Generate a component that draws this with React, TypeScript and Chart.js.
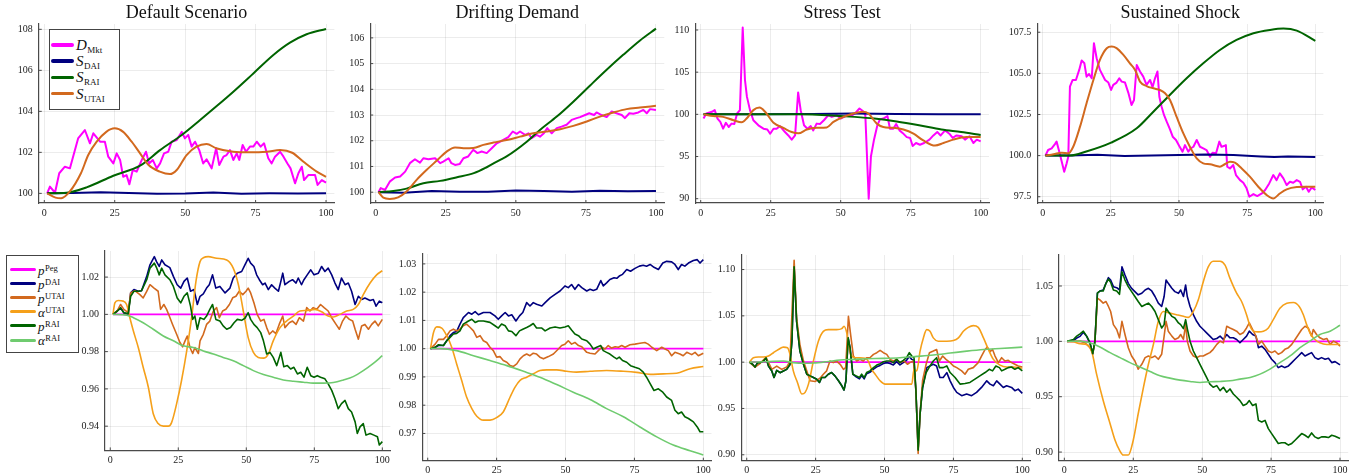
import React, { useEffect, useRef } from "react";
import { Chart, registerables } from "chart.js";
Chart.register(...registerables);

type Pt = [number, number];

const SERIF = "'Liberation Serif', 'DejaVu Serif', serif";
const TITLES = ["Default Scenario", "Drifting Demand", "Stress Test", "Sustained Shock"];
const X_TICKS = [0, 25, 50, 75, 100];
const X_TICK_LABELS = ["0", "25", "50", "75", "100"];

const Y_TICKS_P1 = [100, 102, 104, 106, 108];
const Y_LABELS_P1 = ["100", "102", "104", "106", "108"];
const Y_TICKS_P2 = [100, 101, 102, 103, 104, 105, 106];
const Y_LABELS_P2 = ["100", "101", "102", "103", "104", "105", "106"];
const Y_TICKS_P3 = [90, 95, 100, 105, 110];
const Y_LABELS_P3 = ["90", "95", "100", "105", "110"];
const Y_TICKS_P4 = [97.5, 100, 102.5, 105, 107.5];
const Y_LABELS_P4 = ["97.5", "100.0", "102.5", "105.0", "107.5"];
const Y_TICKS_P5 = [0.94, 0.96, 0.98, 1.0, 1.02];
const Y_LABELS_P5 = ["0.94", "0.96", "0.98", "1.00", "1.02"];
const Y_TICKS_P6 = [0.97, 0.98, 0.99, 1.0, 1.01, 1.02, 1.03];
const Y_LABELS_P6 = ["0.97", "0.98", "0.99", "1.00", "1.01", "1.02", "1.03"];
const Y_TICKS_P7 = [0.9, 0.95, 1.0, 1.05, 1.1];
const Y_LABELS_P7 = ["0.90", "0.95", "1.00", "1.05", "1.10"];
const Y_TICKS_P8 = [0.9, 0.95, 1.0, 1.05];
const Y_LABELS_P8 = ["0.90", "0.95", "1.00", "1.05"];

const LEGEND_TOP_BASE = ["D", "S", "S", "S"];
const LEGEND_TOP_SUB = ["Mkt", "DAI", "RAI", "UTAI"];
const LEGEND_BOT_BASE = ["p", "p", "p", "α", "p", "α"];
const LEGEND_BOT_SUP = ["Peg", "DAI", "UTAI", "UTAI", "RAI", "RAI"];

// ---------- Panel 1: Default Scenario ----------
const P1_DMKT: Pt[] = [[1,100],[2,100.33],[3.8,100.03],[5.3,100.98],[7.3,101.3],[9.1,101.22],[12,102.68],[14.4,103.09],[16.2,102.44],[17.4,102.93],[19.8,102.52],[21.5,102.52],[22.7,101.79],[24.5,101.46],[25.7,101.95],[26.9,101.63],[28,100.81],[29.2,100.89],[30.2,100.44],[31.4,101.14],[32.8,101.06],[34.6,101.63],[36.1,102.03],[37.2,101.46],[38.5,101.63],[39.9,101.22],[41.1,101.46],[42.5,101.95],[44,102.03],[45.2,102.52],[47,102.6],[48.8,103.0],[49.9,102.68],[51.1,102.85],[52.3,102.28],[53.5,102.52],[55,102.11],[56.4,101.46],[57.6,101.66],[59.4,101.22],[61,102.2],[62.1,101.38],[63.6,101.79],[64.7,101.87],[65.9,102.11],[67.1,101.63],[68.3,101.95],[69.2,101.63],[70.4,102.36],[71.6,102.03],[73,102.28],[74.2,102.28],[75.4,102.52],[76.8,102.28],[78,102.44],[79.5,101.71],[80.7,101.46],[81.9,101.79],[83.7,102.03],[84.9,101.79],[86.3,101.46],[87.4,101.22],[89,100.49],[90.2,100.98],[91.4,101.3],[92.2,100.65],[93.7,100.89],[96.1,100.89],[97,100.41],[98.5,100.65],[100,100.52]];
const P1_SDAI: Pt[] = [[1,100],[10,100.02],[20,100.06],[30,100.02],[40,99.98],[50,99.99],[60,100.04],[70,99.98],[80,100.0],[90,99.99],[100,100.0]];
const P1_SRAI: Pt[] = [[1,100],[7.9,100.03],[15,100.29],[24.5,100.86],[34,101.35],[41.1,102.11],[48.8,102.85],[55.3,103.58],[61.2,104.26],[67.1,104.96],[74.2,105.85],[81.3,106.75],[87.2,107.35],[93.1,107.76],[100,108.02]];
const P1_SUTAI: Pt[] = [[1,100],[4,99.79],[6,99.76],[9,100.08],[13,100.98],[15.6,101.87],[18.6,102.52],[22,103.0],[25,103.17],[28,103.0],[31,102.52],[34,101.95],[37,101.38],[41,101.06],[44.6,100.94],[47,101.14],[50.5,101.87],[54,102.28],[57.6,102.41],[61,102.2],[67,102.03],[73,102.0],[79,102.03],[83.7,102.11],[88,101.98],[92,101.54],[96.7,101.06],[100,100.81]];

// ---------- Panel 2: Drifting Demand ----------
const P2_DMKT: Pt[] = [[1,100],[1.8,100.16],[3.3,100.09],[5,100.41],[6.9,100.57],[8.7,100.61],[10.5,100.8],[12.2,101.13],[14,101.28],[15.8,101.15],[17,101.32],[18.8,101.28],[21.2,101.32],[23,101.13],[24.1,101.19],[26,101.32],[27,101.13],[28.3,101.06],[30,101.1],[31.3,101.32],[33,101.39],[34.8,101.65],[36.3,101.52],[37.8,101.58],[39.6,101.52],[41.4,101.71],[43.2,101.9],[45.5,102.03],[47.3,102.14],[48.9,102.36],[50.3,102.27],[51.5,102.36],[53.3,102.23],[54.5,102.29],[55.6,102.1],[57.4,102.23],[58.6,102.16],[60,102.29],[61.2,102.49],[62.8,102.29],[64.6,102.49],[66.3,102.55],[68.1,102.62],[69.9,102.81],[71.7,102.88],[72.9,102.92],[74.7,103.0],[76.2,103.07],[77.9,103.0],[78.8,103.1],[80.6,103.0],[82.4,102.92],[84.2,103.14],[85.9,103.07],[87.8,103.0],[88.9,102.88],[90.5,103.07],[91.9,103.05],[93.7,103.1],[95.5,103.2],[96.7,103.07],[97.9,103.23],[100,103.2]];
const P2_SDAI: Pt[] = [[1,100],[10,99.98],[20,100.05],[30,100.02],[40,100.02],[50,100.07],[60,100.05],[70,100.02],[80,100.06],[90,100.04],[100,100.05]];
const P2_SRAI: Pt[] = [[1,100],[6.3,100.05],[11,100.14],[17,100.35],[23,100.44],[29,100.58],[35,100.74],[39.6,100.97],[44.4,101.26],[46.7,101.39],[54,101.97],[58.6,102.42],[64.6,102.94],[70.5,103.52],[76.5,104.15],[82.4,104.76],[88.3,105.34],[94.3,105.9],[100,106.36]];
const P2_SUTAI: Pt[] = [[1,100],[2.7,99.79],[5,99.74],[8,99.8],[11,100.03],[14.6,100.48],[18.2,100.87],[21.8,101.23],[25.3,101.58],[28.3,101.74],[31.3,101.71],[34.8,101.72],[38.4,101.84],[42,101.93],[46.7,102.03],[51.5,102.16],[56.2,102.29],[61,102.36],[65.8,102.45],[70.5,102.58],[75.3,102.75],[80,102.94],[84.8,103.1],[89.5,103.23],[94.3,103.29],[100,103.36]];

// ---------- Panel 3: Stress Test ----------
const P3_DMKT: Pt[] = [[1,99.5],[2,100.1],[4,100.3],[5,100.5],[6,99.5],[7,99.1],[8,98.3],[9,99.0],[10,98.5],[11,98.9],[12,98.85],[13,100.1],[14,100.5],[15,110.3],[15.8,104.1],[16.5,102.1],[17.6,100.5],[18.8,99.3],[20.6,98.7],[22.4,98.3],[23.8,98.2],[24.8,97.7],[26,98.3],[27.1,98.3],[28.3,98.6],[30.1,97.9],[31.3,97.5],[32.5,97.0],[33.7,97.5],[34.8,102.6],[35.7,100.5],[36.9,98.7],[38.1,98.3],[39.3,98.6],[40.2,98.1],[41.4,98.9],[42.6,98.85],[44,99.3],[45.6,99.9],[46.8,99.7],[48.6,99.9],[50,99.5],[51.2,99.7],[52.4,99.9],[53.6,99.8],[55.1,100.1],[56.7,100.7],[57.9,100.4],[58.8,99.9],[60,90.0],[60.8,95.0],[61.9,97.0],[63.1,98.7],[64,99.4],[65.2,99.5],[66.7,99.8],[67.6,98.3],[68.8,98.3],[69.8,98.85],[71,98.1],[72.1,97.8],[73.6,97.3],[74.8,97.2],[75.7,96.25],[76.9,96.6],[78.3,96.4],[79.8,96.6],[81.7,97.0],[83.1,97.5],[84.5,97.9],[85.7,97.5],[87.3,98.1],[88.8,97.7],[90,97.2],[91.4,97.5],[93.2,97.4],[94.4,97.0],[96,97.4],[97.4,96.6],[98.6,97.0],[100,96.8]];
const P3_SDAI: Pt[] = [[1,100],[20,100.02],[40,100.05],[55,100.1],[70,100.05],[85,100.0],[100,100.0]];
const P3_SRAI: Pt[] = [[1,100],[20,100.02],[35,100],[45,99.9],[55,99.7],[62,99.5],[70,99.15],[78,98.7],[86,98.2],[93,97.9],[100,97.55]];
const P3_SUTAI: Pt[] = [[1,100],[4.5,99.8],[8,99.7],[11.7,99.3],[14.6,99.05],[16.4,99.5],[18.8,100.5],[21,100.8],[23,100.3],[26,99.0],[29.5,98.4],[32.5,97.9],[34.9,97.75],[37.9,98.2],[41.4,98.4],[45,98.45],[47.4,99.1],[51,99.7],[54.5,100.1],[58,100.3],[59.9,100.1],[62.9,98.9],[65.2,98.5],[68.8,98.4],[72.4,98.2],[76,97.7],[79.5,96.9],[83.7,96.3],[86.7,96.6],[90.2,97.0],[95,97.3],[100,97.3]];

// ---------- Panel 4: Sustained Shock ----------
const P4_DMKT: Pt[] = [[1,100.0],[2,100.34],[3.3,100.44],[4.5,100.7],[5.1,100.85],[6.1,100.24],[7,99.63],[7.9,99.02],[8.8,99.53],[9.4,99.93],[10,104.19],[11,104.6],[12.2,104.6],[13.4,105.21],[14.3,105.78],[15.3,105.61],[16.1,104.8],[17,104.96],[18,104.7],[18.8,106.83],[19.8,105.92],[21,105.21],[22.9,104.6],[24.1,104.44],[25.1,103.99],[25.9,104.3],[27.1,104.44],[28.1,104.7],[29,104.5],[30.2,104.44],[31.4,103.83],[32.6,103.08],[33.5,103.38],[34.5,105.51],[35.7,105.11],[36.9,104.8],[38.1,104.3],[39.4,104.6],[40.3,104.15],[41.2,104.7],[42.1,105.11],[42.8,103.58],[43.6,102.98],[44.5,102.47],[45.5,102.06],[46.7,101.6],[47.7,101.15],[48.9,100.95],[50.1,100.58],[51.3,100.24],[52.2,100.64],[53.4,100.24],[54.3,100.44],[55.3,100.54],[56.5,100.95],[57.7,100.54],[58.9,100.44],[60.1,100.34],[61.4,99.93],[62.3,100.18],[63.6,100.14],[64.8,100.85],[65.6,100.54],[66.5,100.58],[67.2,100.64],[67.7,99.33],[68.7,99.22],[69.9,99.43],[70.9,98.82],[72.4,98.51],[73.6,98.35],[74.8,98.01],[75.8,97.5],[77.3,97.66],[78.7,97.54],[80.4,97.7],[81.6,97.91],[83.1,98.31],[84.6,98.82],[85.8,98.51],[87,98.92],[88.3,98.62],[89.5,98.21],[90.7,98.41],[91.9,98.35],[93.2,98.51],[94.4,98.41],[95.4,97.95],[96.6,98.11],[97.6,97.8],[98.7,98.07],[100,97.91]];
const P4_SDAI: Pt[] = [[1,100],[10,100.0],[20,100.05],[30,99.97],[40,100.0],[50,100.04],[60,100.07],[70,100.04],[80,99.95],[85,99.92],[90,99.95],[100,99.92]];
const P4_SRAI: Pt[] = [[1,100],[10,100.0],[16,100.25],[25.1,100.79],[34.5,101.66],[40.6,102.67],[46,103.58],[52.8,104.7],[58.9,105.61],[65,106.42],[71.1,107.03],[77.3,107.44],[83.4,107.64],[88.3,107.72],[93.2,107.6],[100,106.97]];
const P4_SUTAI: Pt[] = [[1,100],[4,100.08],[7,100.18],[9.4,100.14],[11.2,100.54],[13.7,101.76],[16.1,103.18],[18.6,104.6],[21,105.82],[23.5,106.53],[25.3,106.63],[27.1,106.53],[29.6,106.12],[32,105.61],[33.9,105.21],[35.7,104.5],[38.1,104.23],[40.6,104.09],[43,103.99],[44.9,103.79],[46.7,103.38],[49.1,102.37],[51.6,101.35],[54,100.54],[56.5,99.83],[58.9,99.53],[61.4,99.47],[63.8,99.37],[65,99.33],[66.9,99.49],[68.7,99.63],[70.5,99.57],[73,99.22],[76,98.72],[79.1,98.11],[82.2,97.6],[84.6,97.4],[87,97.7],[89.5,97.95],[93.2,98.09],[96.8,98.11],[100,98.11]];

// ---------- Panel 5 ----------
const P5_PEG: Pt[] = [[1,1.0],[100,1.0]];
const P5_PDAI: Pt[] = [[1,1.0],[2.6,1.0018],[3.8,1.0035],[5,1.0009],[6.6,1.0],[7.5,1.0115],[8.7,1.0133],[10.3,1.0124],[11.5,1.0127],[13.4,1.0204],[14.6,1.0266],[16.2,1.031],[17,1.0283],[18,1.0257],[18.9,1.0292],[20.1,1.0266],[21.9,1.0251],[23.2,1.0204],[24.6,1.0159],[25.9,1.0141],[27.1,1.0177],[28.3,1.0195],[29.5,1.0124],[30.8,1.0133],[32,1.0053],[33,1.0097],[34.2,1.011],[35.4,1.0141],[36.4,1.0159],[37.6,1.0212],[38.8,1.0141],[40.3,1.015],[42.2,1.0115],[44,1.0141],[45.2,1.0195],[46.7,1.0221],[48.3,1.023],[49.5,1.0266],[50.7,1.0301],[51.6,1.0275],[52.8,1.0257],[53.8,1.0212],[54.8,1.0186],[56,1.0159],[56.9,1.0168],[58.1,1.0133],[59.3,1.0159],[60.5,1.0141],[61.8,1.0124],[62.7,1.0177],[63.4,1.0221],[64.2,1.0159],[65.8,1.0177],[67,1.0186],[68.3,1.0168],[69.1,1.0195],[70.3,1.0159],[71.2,1.0186],[72.4,1.0212],[73.7,1.0239],[74.9,1.0212],[76.5,1.0221],[77.7,1.0257],[78.9,1.023],[80.1,1.0248],[81.4,1.0212],[82.6,1.0168],[83.8,1.0133],[85,1.0195],[86.3,1.0159],[87.5,1.0168],[88.7,1.0124],[90,1.0053],[91.2,1.0097],[92.4,1.008],[93.6,1.0088],[95.5,1.0074],[96.7,1.008],[97.7,1.0044],[98.9,1.0071],[100,1.0062]];
const P5_PUTAI: Pt[] = [[1,1.0],[2.6,1.002],[3.8,1.0053],[5,1.0027],[6.6,1.0009],[7.5,1.0115],[9,1.0127],[10.9,1.0106],[12.1,1.0088],[13.4,1.0124],[14.6,1.0159],[16.1,1.0141],[17.6,1.0124],[18.5,1.0027],[19.7,1.0053],[20.7,1.0027],[21.7,0.9991],[22.9,0.9946],[24.4,0.9893],[25.6,0.9849],[26.6,0.9826],[27.5,0.9858],[28.3,0.9884],[29.3,0.9822],[30.3,0.979],[31.1,0.9822],[32.4,0.979],[33,0.9858],[34.2,0.9893],[35.4,0.9946],[36.6,0.9964],[37.9,1.0018],[39.1,1.0036],[40.1,0.9982],[41.3,1.0018],[42.5,1.0027],[43.8,1.0053],[45,1.0089],[46.2,1.0097],[47.4,1.0124],[48.7,1.0106],[49.9,1.0124],[50.7,1.0141],[51.6,1.0115],[52.8,1.0062],[54,1.0],[55.3,0.9964],[56.5,0.9973],[57.5,0.9929],[58.5,0.9893],[59.7,0.9911],[60.9,0.9897],[62.1,0.9946],[63.4,0.9991],[64.2,0.9929],[65.8,0.9955],[67,0.9964],[68.3,0.9946],[69.5,0.9982],[71,0.9964],[72.2,1.0036],[73.4,1.0018],[74.6,1.0036],[75.9,1.0027],[77.3,1.0053],[78.6,1.0036],[80.1,1.0018],[81.4,0.9982],[83,0.9946],[84.2,0.992],[85.4,0.9964],[86.6,0.9991],[87.9,0.9973],[89.1,0.9964],[90,0.992],[91.2,0.9867],[92.4,0.9938],[93.6,0.9946],[94.9,0.992],[96.1,0.9946],[97.3,0.9964],[98.5,0.9938],[100,0.9973]];
const P5_AUTAI: Pt[] = [[1,1.0],[1.7,1.0062],[2.9,1.0074],[4.8,1.0071],[6,1.0053],[7.2,0.9982],[8.5,0.9911],[10.3,0.9822],[12.1,0.9716],[14,0.9609],[15.8,0.9467],[17.6,0.9414],[19.5,0.94],[21.3,0.94],[22.5,0.9418],[24.4,0.9521],[26.2,0.9645],[28.1,0.9804],[29.9,0.9982],[31.5,1.0177],[33,1.0283],[34.4,1.0305],[36,1.031],[39.1,1.0301],[42.8,1.0292],[45.2,1.0248],[47.1,1.0159],[48.9,1.0018],[50.7,0.9875],[52.6,0.9796],[54.4,0.9769],[56.3,0.9765],[58.1,0.9787],[59.9,0.9858],[62.4,0.9929],[64.8,0.9964],[67.3,0.9991],[69.7,1.0018],[72.2,1.0021],[75.2,1.0027],[77.7,1.0014],[80.1,0.9991],[82,0.9986],[84.4,1.0],[86.9,1.0018],[89.3,1.0027],[91.2,1.0053],[93,1.0106],[95.5,1.0168],[97.9,1.0212],[100,1.0234]];
const P5_PRAI: Pt[] = [[1,1.0],[2.6,1.0018],[3.8,1.0035],[5,1.0009],[6.6,1.0004],[7.5,1.0097],[8.7,1.0124],[10.3,1.0124],[11.5,1.0127],[13.4,1.0186],[14.6,1.0248],[16.2,1.0275],[17,1.0251],[18,1.0212],[18.9,1.0248],[20.1,1.0212],[21.9,1.0186],[23.2,1.015],[24.6,1.0088],[25.9,1.0062],[27.1,1.0097],[28.3,1.0115],[29.5,1.0044],[30.3,0.9973],[31.1,0.9991],[32,0.992],[33,0.9982],[34.4,0.9973],[35.4,0.9991],[36.6,1.0027],[37.6,1.0053],[38.8,0.9973],[40.3,0.9964],[41.5,0.9938],[42.8,0.992],[44.2,0.9929],[45.5,0.9955],[46.7,0.9973],[48.3,0.9968],[49.5,0.9979],[50.7,1.0009],[51.6,0.9973],[52.8,0.9946],[54,0.9929],[55.3,0.9902],[56.3,0.9858],[57.5,0.9787],[58.7,0.9796],[59.9,0.9769],[61.2,0.9725],[62.7,0.9796],[63.8,0.9719],[65.1,0.9725],[66.3,0.9707],[67.5,0.9716],[68.8,0.968],[70,0.9689],[71.2,0.9663],[72.4,0.9716],[73.7,0.9671],[74.9,0.9663],[76.1,0.9671],[77.3,0.9663],[78.9,0.9654],[80.1,0.9627],[81.4,0.9592],[82.6,0.9547],[83.8,0.9494],[85,0.9521],[86.3,0.9538],[87.5,0.9494],[88.7,0.9476],[90,0.9423],[90.8,0.9361],[91.8,0.9396],[93,0.9414],[94,0.9352],[95.5,0.9361],[96.9,0.9352],[98.2,0.9343],[98.9,0.9299],[100,0.9317]];
const P5_ARAI: Pt[] = [[1,1.0],[6,0.9996],[8.5,0.9982],[12.1,0.9955],[15.8,0.992],[19.5,0.9884],[23.2,0.9858],[26.8,0.9831],[30.5,0.9822],[34.2,0.9804],[37.9,0.9787],[41.5,0.9769],[45.2,0.9751],[48.9,0.9725],[52.6,0.9698],[56.3,0.9677],[59.9,0.9663],[63.6,0.9648],[67.3,0.9641],[71,0.9636],[74.6,0.9631],[78.3,0.9631],[82,0.9634],[85.7,0.9648],[89.3,0.9666],[93,0.9698],[96.7,0.9737],[100,0.9778]];

// ---------- Panel 6 ----------
const P6_PEG: Pt[] = [[1,1.0],[100,1.0]];
const P6_PDAI: Pt[] = [[1,1.0],[2.7,1.0005],[3.9,1.0011],[5.7,1.0011],[6.9,1.0028],[8.1,1.0046],[9.3,1.0057],[10.5,1.0061],[11.7,1.0087],[12.9,1.011],[14.8,1.0128],[16,1.0122],[17.2,1.0131],[18.4,1.012],[20.2,1.0128],[22.6,1.0128],[24.4,1.0116],[25.6,1.0104],[26.8,1.0116],[28.1,1.0128],[29.3,1.0116],[30.5,1.012],[32,1.0098],[33.3,1.0116],[34.5,1.0128],[35.9,1.0163],[37.1,1.0151],[38.3,1.0163],[39.5,1.0157],[41.4,1.0151],[42.6,1.0163],[44.4,1.018],[46.2,1.0192],[48,1.0204],[49.8,1.0222],[51,1.0216],[52.2,1.0227],[53.4,1.021],[54.7,1.0227],[55.9,1.0216],[57.7,1.0204],[58.9,1.021],[60.1,1.0206],[61.3,1.021],[62.8,1.0241],[63.7,1.0222],[64.9,1.0233],[66.1,1.0245],[67.6,1.0251],[68.6,1.0249],[69.5,1.0257],[70.7,1.0263],[72.2,1.028],[73.6,1.0274],[75.2,1.0284],[76.8,1.0292],[78.2,1.0295],[79.4,1.0292],[80.7,1.0298],[82.1,1.0288],[83.7,1.028],[85.3,1.0303],[86.7,1.0309],[88.5,1.0307],[89.7,1.0298],[90.9,1.028],[92.1,1.0298],[93.3,1.0292],[94.6,1.0303],[96.4,1.0312],[97.8,1.0315],[98.8,1.0303],[100,1.0315]];
const P6_PUTAI: Pt[] = [[1,1.0],[2.7,1.0016],[3.9,1.0033],[5.7,1.0033],[6.9,1.0046],[8.1,1.0063],[9.3,1.0069],[10.5,1.0063],[11.7,1.0069],[12.9,1.0081],[14.1,1.0087],[15.4,1.0075],[16.6,1.0063],[17.8,1.004],[19,1.0046],[20.2,1.0028],[21.4,1.0022],[22.6,1.0005],[23.8,0.9993],[25,0.997],[26.2,0.9972],[27.4,0.9958],[28.7,0.9952],[29.9,0.994],[31.1,0.9937],[32.3,0.9946],[33.5,0.9964],[34.7,0.9975],[35.9,0.9981],[37.1,0.9975],[38.3,0.9984],[39.5,0.9981],[40.7,0.997],[42,0.9964],[43.8,0.9972],[45.6,0.9981],[47.4,0.9999],[48.6,1.0011],[49.8,1.0016],[51,1.0028],[52.2,1.0016],[53.4,1.0022],[54.7,1.0011],[55.9,1.0007],[57.7,0.9987],[58.9,0.9984],[60.7,0.9981],[61.9,0.9993],[63.2,1.0005],[64.3,0.9999],[65.5,1.0011],[66.7,1.0002],[68,1.0007],[69.2,1.0005],[70.4,1.0011],[71.6,1.0005],[73.4,1.0014],[75.2,1.0016],[77,1.0019],[78.8,1.0022],[80,1.0016],[81.3,1.0005],[83.1,0.9993],[84.9,1.0005],[86.1,0.9999],[87.3,0.9993],[88.5,0.9975],[89.7,0.9987],[91.5,0.9981],[92.7,0.9975],[94,0.9987],[95.8,0.9979],[97,0.9987],[98.2,0.9975],[100,0.9984]];
const P6_AUTAI: Pt[] = [[1,1.0],[2.1,1.0057],[3.3,1.0077],[5.1,1.0073],[6.9,1.0046],[8.7,1.0005],[10.5,0.9946],[12.3,0.9888],[14.1,0.9829],[16,0.9788],[17.8,0.9761],[20.2,0.9747],[22.6,0.9747],[25,0.9756],[27.4,0.9776],[29.9,0.9829],[31.7,0.9864],[33.5,0.9888],[35.9,0.9899],[38.3,0.9911],[40.7,0.9923],[43.2,0.9925],[46.8,0.9925],[50.4,0.992],[54,0.9917],[58.9,0.992],[64.9,0.9923],[71,0.992],[75.8,0.9916],[80.7,0.9909],[85.5,0.9911],[90.3,0.9913],[95.2,0.9929],[100,0.9937]];
const P6_PRAI: Pt[] = [[1,1.0],[2.7,1.0005],[3.9,1.0014],[5.7,1.0011],[6.9,1.0028],[8.1,1.004],[9.3,1.0052],[10.5,1.0054],[11.7,1.0063],[12.9,1.0087],[14.8,1.0098],[16,1.0104],[17.2,1.0093],[18.4,1.0098],[20.2,1.0098],[22.6,1.0093],[24.4,1.0081],[25.6,1.0073],[26.8,1.0087],[28.1,1.0081],[29.3,1.0063],[30.5,1.0061],[32,1.0046],[33.3,1.0063],[34.5,1.0069],[35.9,1.0075],[37.1,1.0081],[38.3,1.0089],[39.5,1.0073],[41.4,1.0073],[42.6,1.0063],[44.4,1.0073],[46.2,1.0077],[48,1.0073],[49.8,1.0077],[51,1.0081],[52.2,1.0066],[53.4,1.0052],[54.7,1.0046],[55.9,1.0034],[57.7,1.0028],[58.9,1.0016],[60.1,0.9999],[61.3,1.0005],[62.8,1.0011],[63.7,0.9993],[64.9,0.9987],[66.1,0.9981],[67.6,0.997],[68.6,0.9964],[69.5,0.997],[70.7,0.9958],[72.2,0.9952],[73.6,0.994],[75.2,0.9934],[76.8,0.9929],[78.2,0.9917],[79.4,0.9899],[80.7,0.9876],[82.1,0.9852],[83.7,0.9858],[85.3,0.9846],[86.7,0.9829],[88.5,0.9817],[89.7,0.9782],[90.9,0.977],[92.1,0.9776],[93.3,0.9759],[94.6,0.9753],[96.4,0.9741],[97.8,0.9723],[98.8,0.9706],[100,0.9706]];
const P6_ARAI: Pt[] = [[1,1.0],[4.5,1.0],[10.5,0.9993],[16.6,0.9975],[22.6,0.9958],[28.7,0.994],[34.7,0.992],[40.7,0.9899],[46.8,0.9873],[52.8,0.9846],[58.9,0.982],[64.9,0.9788],[71,0.9759],[77,0.9723],[83.1,0.9688],[89.1,0.9659],[95.2,0.9639],[100,0.9624]];

// ---------- Panel 7 ----------
const P7_PEG: Pt[] = [[1,1.0],[100,1.0]];
const P7_PDAI: Pt[] = [[1,1.0],[2.2,0.9975],[3,0.9947],[3.9,0.9993],[4.8,0.9993],[6,1.0011],[7,1.0046],[7.9,0.9957],[9.1,0.9904],[9.9,0.9834],[10.9,0.9911],[12.1,0.9886],[13.3,0.9904],[14.5,0.9922],[15.7,0.9975],[16.4,1.0226],[17.2,1.1029],[18.1,1.044],[19.3,1.0119],[20.6,0.9977],[21.8,0.987],[23,0.9852],[24.2,0.9834],[25.4,0.9816],[26.4,0.9781],[27.2,0.9834],[28.4,0.9834],[29.6,0.987],[30.8,0.9888],[32,0.9852],[33.3,0.9799],[34.5,0.9745],[35.3,0.9699],[36,0.9799],[36.8,1.0262],[37.5,1.0155],[38.5,0.987],[39.7,0.9841],[40.9,0.982],[41.7,0.9855],[42.6,0.982],[43.5,0.9875],[44.7,0.989],[46,0.9925],[47.2,0.995],[48.4,0.9965],[49.6,0.9985],[50.8,0.9995],[52,0.9985],[53.2,0.997],[54.4,1.0005],[55.6,0.997],[56.8,0.9995],[58,1.002],[59,1.006],[59.9,1.003],[60.7,1.002],[61.4,0.968],[62.2,0.906],[62.9,0.944],[63.8,0.972],[65.3,0.9941],[67.7,0.9977],[68.9,0.9959],[70.1,0.9834],[71.3,0.9834],[72.6,0.9887],[73.8,0.9798],[75,0.9727],[76.2,0.9674],[78,0.9638],[79.8,0.9656],[81.6,0.9638],[83.4,0.9674],[85.2,0.9727],[87.1,0.9798],[88.3,0.9763],[89.5,0.9745],[90.7,0.9798],[91.9,0.9763],[93.1,0.9727],[94.3,0.9745],[96.1,0.9727],[97.3,0.9692],[98.5,0.9709],[100,0.9663]];
const P7_PUTAI: Pt[] = [[1,1.0],[3,0.9947],[4.8,0.9985],[7,1.0053],[9.1,0.9922],[10.9,0.9957],[12.7,0.9922],[14.5,0.9947],[15.7,1.0011],[17.2,1.11],[18.1,1.0476],[19.3,1.019],[20.6,1.0012],[21.8,0.9904],[23,0.9799],[24.8,0.9791],[26.6,0.9827],[27.8,0.987],[29,0.9906],[30.2,1.0012],[31.4,0.9995],[32.6,1.0012],[33.9,0.9977],[35.1,0.9922],[35.9,0.994],[36.9,1.0494],[37.7,1.0298],[38.7,1.0066],[39.9,1.0012],[41.1,1.003],[42.3,1.0012],[43.5,1.0048],[44.7,1.0048],[46,1.0084],[47.2,1.0102],[48.4,1.0127],[49.6,1.0102],[50.8,1.0084],[52,1.003],[53.2,1.0012],[54.4,1.003],[55.6,0.9995],[57.1,1.0012],[58.3,0.9977],[59.2,0.9995],[60.5,1.0012],[61.4,0.9692],[62.2,0.9014],[62.9,0.9442],[63.8,0.9799],[65.1,0.9977],[66.3,1.0102],[67.7,1.012],[68.9,1.0137],[69.9,1.0012],[71.1,1.0066],[72.3,1.003],[73.8,0.9995],[75,0.9959],[76.2,0.9941],[78,0.9906],[79.2,0.987],[80.4,0.9923],[82.2,0.9941],[84,0.9995],[85.2,1.0066],[86.5,1.0137],[87.3,1.0162],[88.3,1.0112],[89.2,1.0137],[90.1,1.0066],[91.3,0.9995],[92.5,1.0048],[93.7,1.0012],[94.9,1.002],[96.1,0.9995],[97.3,0.9977],[98.5,0.9959],[100,0.9948]];
const P7_AUTAI: Pt[] = [[1,1.0],[2.4,1.0048],[4.2,1.0055],[6,1.0055],[7.9,1.0066],[9.7,1.0102],[11.5,1.0137],[13.3,1.0162],[14.8,1.0155],[15.7,1.0084],[16.9,0.9906],[18.4,0.9781],[20,0.9656],[21.2,0.9674],[22.4,0.9763],[24.2,1.0012],[26,1.0226],[27.8,1.0333],[29.6,1.0351],[32.6,1.0351],[34.5,1.0362],[35.3,1.0387],[36.3,1.0316],[37.7,1.0084],[39.3,1.0048],[41.1,1.0048],[42.9,1.0041],[44.1,1.0012],[45.3,0.9923],[46.6,0.987],[48.4,0.9799],[50.2,0.9763],[53.2,0.9763],[56.8,0.9763],[59.9,0.9763],[60.7,0.9923],[61.7,0.9906],[62.9,1.012],[64.1,1.0262],[65.3,1.0351],[66.5,1.0333],[67.7,1.0262],[69.5,1.0226],[72.6,1.0226],[75,1.0233],[76.8,1.0262],[78.6,1.0333],[80.4,1.0376],[82.2,1.0394],[84,1.0376],[85.9,1.0262],[87.7,1.0137],[89.5,1.003],[91.9,0.9968],[94.3,0.9948],[96.7,0.9948],[100,0.9934]];
const P7_PRAI: Pt[] = [[1,1.0],[2.2,0.9975],[3,0.9947],[3.9,0.9993],[4.8,0.9993],[6,1.0011],[7,1.0046],[7.9,0.9957],[9.1,0.9904],[9.9,0.9834],[10.9,0.9911],[12.1,0.9886],[13.3,0.9904],[14.5,0.9922],[15.7,0.9975],[16.4,1.0226],[17.2,1.1029],[18.1,1.044],[19.3,1.0119],[20.6,0.9977],[21.8,0.987],[23,0.9852],[24.2,0.9834],[25.4,0.9816],[26.4,0.9781],[27.2,0.9834],[28.4,0.9834],[29.6,0.987],[30.8,0.9888],[32,0.9852],[33.3,0.9799],[34.5,0.9745],[35.3,0.9699],[36,0.9799],[36.8,1.0262],[37.5,1.0155],[38.5,0.987],[39.7,0.9852],[40.9,0.9834],[41.7,0.987],[42.6,0.9834],[43.5,0.9888],[44.7,0.9906],[46,0.9941],[47.2,0.9969],[48.4,0.9984],[49.6,1.0005],[50.8,1.0012],[52,1.0012],[53.2,0.9995],[54.4,1.003],[55.6,0.9995],[56.8,1.002],[58,1.0048],[59,1.0102],[59.9,1.0066],[60.7,1.0048],[61.4,0.9692],[62.2,0.905],[62.9,0.9442],[63.8,0.9727],[65.1,0.9888],[66.5,0.9959],[67.7,1.0012],[68.9,1.0048],[69.9,0.9941],[71.3,0.9941],[72.6,0.9959],[73.8,0.9888],[75.6,0.9834],[77.4,0.9763],[79.2,0.977],[81,0.9781],[82.8,0.9816],[84.6,0.9852],[86.5,0.9888],[88,0.9923],[89.2,0.9906],[90.4,0.9959],[91.7,0.9941],[92.5,0.9906],[93.7,0.9923],[94.9,0.9941],[96.1,0.9948],[97.3,0.9923],[98.5,0.9941],[100,0.9906]];
const P7_ARAI: Pt[] = [[1,1.0],[7.3,1.0005],[13.3,1.0012],[16.9,0.9995],[20.6,0.9988],[24.2,0.9991],[29,1.0005],[33.9,1.0023],[38.7,1.003],[43.5,1.0037],[49.6,1.0041],[55.6,1.0048],[61.7,1.0062],[67.7,1.0077],[73.8,1.0098],[79.8,1.0119],[85.9,1.0137],[91.9,1.0148],[100,1.0162]];

// ---------- Panel 8 ----------
const P8_PEG: Pt[] = [[1,1.0],[100,1.0]];
const P8_PDAI: Pt[] = [[1,1.0],[3.3,1.0006],[4.5,1.003],[5.7,1.0045],[6.9,1.0083],[8.1,1.0045],[9.3,0.9985],[10.3,0.9887],[11.1,1.0002],[12,1.0435],[12.9,1.0455],[14.1,1.0464],[15.1,1.0524],[16,1.0575],[16.8,1.0554],[17.8,1.0494],[19,1.0485],[20,1.0464],[20.9,1.0673],[22,1.0599],[23.2,1.0524],[24.4,1.0479],[25.6,1.0449],[26.8,1.042],[28.1,1.0434],[29.3,1.0464],[30.5,1.0479],[31.7,1.0455],[32.9,1.0405],[34.1,1.0345],[35.3,1.0315],[36.2,1.0405],[36.9,1.0554],[37.7,1.0524],[39,1.0479],[40.1,1.0449],[41.4,1.0434],[42.2,1.0464],[43.2,1.0405],[44,1.0509],[44.6,1.0405],[45.6,1.0315],[46.8,1.0241],[48,1.0181],[49.2,1.0136],[50.4,1.0107],[51.6,1.0077],[52.8,1.0047],[54,1.0017],[55.3,1.0026],[56.5,1.0047],[57.7,1.0017],[58.9,1.0062],[60.1,1.0032],[61.3,1.0032],[62.5,1.0017],[63.7,0.9987],[64.9,1.0017],[66.1,1.0047],[67.1,1.0092],[68.3,1.0062],[69.5,1.0047],[70.4,0.9943],[71.6,0.9957],[72.8,0.9928],[74,0.9883],[75.2,0.9838],[76.4,0.9808],[77.6,0.9763],[78.8,0.9778],[80,0.9763],[81.3,0.9778],[82.5,0.9808],[83.7,0.9838],[84.9,0.9868],[86.1,0.9898],[87.3,0.9868],[88.5,0.9883],[89.7,0.9898],[90.9,0.9853],[92.1,0.9838],[93.3,0.9853],[94.6,0.9838],[95.8,0.9847],[97,0.9808],[98.2,0.9817],[100,0.9787]];
const P8_PUTAI: Pt[] = [[1,1.0],[3.3,1.0],[5.7,1.0002],[7.5,0.9987],[9.3,0.9943],[10.3,0.9889],[11.1,1.0],[12,1.039],[12.9,1.0375],[14.1,1.0345],[15.1,1.036],[16,1.0315],[16.8,1.027],[17.8,1.0151],[19,1.0107],[20,1.0032],[20.9,1.0181],[22,1.0062],[23.2,0.9942],[24.4,0.9868],[25.6,0.9823],[26.8,0.9749],[28.1,0.9793],[29.3,0.9853],[30.5,0.9868],[31.7,0.9853],[32.9,0.9868],[34.1,0.9838],[35.3,0.9883],[36.2,1.0047],[36.9,1.0181],[37.7,1.0092],[39,1.0047],[40.1,1.0017],[41.4,1.0032],[42.2,1.0062],[43.2,1.0017],[44,1.0151],[44.6,1.0002],[45.6,0.9913],[46.8,0.9868],[48,0.9853],[49.2,0.9868],[50.4,0.9868],[51.6,0.9883],[52.8,0.9898],[54,0.9928],[55.3,0.9973],[56.5,1.0002],[57.7,0.9987],[58.9,1.0136],[60.1,1.0121],[61.3,1.0107],[62.5,1.0092],[63.7,1.0062],[64.9,1.0077],[66.1,1.0121],[67.1,1.0166],[68.3,1.0107],[69.5,1.0047],[70.4,0.9973],[71.6,1.0002],[72.8,0.9957],[74,0.9913],[75.2,0.9898],[76.4,0.9913],[77.6,0.9883],[78.8,0.9898],[80,0.9928],[81.3,0.9943],[82.5,0.9973],[83.7,1.0017],[84.9,1.0062],[86.1,1.0107],[87.3,1.0136],[88.5,1.0121],[89.7,1.0047],[90.3,1.0107],[91.5,1.0062],[92.7,1.0032],[94,1.0017],[95.2,1.0026],[96.4,0.9973],[97.6,1.0002],[98.8,0.9987],[100,0.9957]];
const P8_AUTAI: Pt[] = [[1,1.0],[3.3,0.9996],[5.7,0.9978],[8.1,0.9972],[9.9,0.9913],[11.7,0.9704],[14.1,0.9465],[16.6,0.9256],[18.4,0.9107],[20,0.9018],[21.4,0.8973],[23.2,0.8973],[25,0.9107],[26.8,0.9346],[28.7,0.9585],[30.5,0.9793],[32.3,0.9972],[34.1,1.0181],[35.9,1.027],[38.3,1.0256],[40.7,1.0241],[43.2,1.0226],[45,1.0217],[46.8,1.027],[48.6,1.0375],[50.4,1.0539],[52.2,1.0673],[54,1.0724],[56.5,1.0724],[58.3,1.0688],[60.1,1.0569],[62.5,1.0435],[64.3,1.036],[66.1,1.0241],[67.4,1.0136],[68.6,1.0092],[70.4,1.0086],[72.2,1.0092],[74,1.0121],[75.8,1.0196],[78.2,1.03],[80.7,1.0345],[83.1,1.0351],[85.2,1.0315],[86.7,1.0241],[87.9,1.0151],[89.4,1.0062],[90.9,1.0017],[92.7,0.9987],[95.2,0.9972],[97.6,0.9972],[100,0.9972]];
const P8_PRAI: Pt[] = [[1,1.0],[3.3,1.0017],[4.5,1.0047],[5.7,1.0068],[6.9,1.0092],[8.1,1.0047],[9.3,0.9987],[10.3,0.9889],[11.1,1.0002],[12,1.0435],[12.9,1.0455],[14.1,1.0455],[15.1,1.0524],[16,1.0563],[16.8,1.0533],[17.8,1.0464],[19,1.0455],[20,1.0425],[20.9,1.0628],[22,1.0554],[23.2,1.0494],[24.4,1.0449],[25.6,1.0405],[26.8,1.036],[28.1,1.0315],[29.3,1.033],[30.5,1.0345],[31.7,1.0315],[32.9,1.027],[34.1,1.0196],[35.3,1.0121],[36.2,1.0151],[36.9,1.03],[37.7,1.027],[39,1.0226],[40.1,1.0211],[41.4,1.0166],[42.2,1.0151],[43.2,1.0115],[44,1.0196],[44.6,1.0115],[45.6,1.0002],[46.8,0.9913],[48,0.9853],[49.2,0.9793],[50.4,0.9734],[51.6,0.9674],[52.8,0.9614],[54,0.9585],[55.3,0.96],[56.5,0.9555],[57.7,0.9585],[58.9,0.954],[60.1,0.957],[61.3,0.9525],[62.5,0.9495],[63.7,0.9465],[64.9,0.9421],[66.1,0.9435],[67.1,0.9465],[68.3,0.9421],[69.5,0.9435],[70.4,0.9286],[71.6,0.9271],[72.8,0.9286],[74,0.9212],[75.2,0.9167],[76.4,0.9122],[77.6,0.9078],[78.8,0.9084],[80,0.9084],[81.3,0.9063],[82.5,0.9078],[83.7,0.9107],[84.9,0.9137],[86.1,0.9167],[87.3,0.9152],[88.5,0.9131],[89.7,0.9173],[90.9,0.9137],[92.1,0.9122],[93.3,0.9137],[94.6,0.9137],[95.8,0.9131],[97,0.9152],[98.2,0.9143],[100,0.9122]];
const P8_ARAI: Pt[] = [[1,1.0],[5.7,1.0002],[9.3,0.9987],[12.9,0.9949],[16.6,0.9898],[20.2,0.9853],[23.8,0.9808],[27.4,0.9769],[31.1,0.9728],[34.7,0.9689],[38.3,0.9668],[42,0.965],[45.6,0.9638],[49.2,0.9629],[52.8,0.9635],[56.5,0.9638],[60.1,0.9644],[63.7,0.9659],[67.4,0.9674],[71,0.9704],[74.6,0.9749],[78.2,0.9808],[81.9,0.9868],[85.5,0.9943],[89.1,1.0002],[92.7,1.0062],[96.4,1.0092],[100,1.0145]];

// ---------- styling ----------
const COL = {
  mag: "#ff00ff",
  navy: "#00007f",
  dgreen: "#006400",
  choc: "#d2691e",
  orange: "#f5a01a",
  lgreen: "#6fcb6f",
};
const GRID = "rgba(0,0,0,0.075)";
const AXIS = "#4a4a4a";
const TEXT = "#222";

interface SeriesDef { data: Pt[]; color: string; smooth: boolean; }
interface PanelDef {
  title?: string;
  l: number; t: number; r: number; b: number;
  yMin: number; yMax: number;
  yTicks: number[]; yLabels: string[];
  lw: number;
  series: SeriesDef[];
}

const TOP_T = 24, TOP_B = 203;
const topSeries = (d: Pt[], s: Pt[], r: Pt[], u: Pt[]): SeriesDef[] => [
  { data: d, color: COL.mag, smooth: false },
  { data: s, color: COL.navy, smooth: false },
  { data: r, color: COL.dgreen, smooth: true },
  { data: u, color: COL.choc, smooth: true },
];
const botSeries = (peg: Pt[], pd: Pt[], pu: Pt[], au: Pt[], pr: Pt[], ar: Pt[]): SeriesDef[] => [
  { data: peg, color: COL.mag, smooth: false },
  { data: pd, color: COL.navy, smooth: false },
  { data: pu, color: COL.choc, smooth: false },
  { data: au, color: COL.orange, smooth: true },
  { data: pr, color: COL.dgreen, smooth: false },
  { data: ar, color: COL.lgreen, smooth: true },
];

const PANELS: PanelDef[] = [
  { title: TITLES[0], l: 38.75, t: TOP_T, r: 334.4, b: TOP_B, yMin: 99.53, yMax: 108.26, yTicks: Y_TICKS_P1, yLabels: Y_LABELS_P1, lw: 2, series: topSeries(P1_DMKT, P1_SDAI, P1_SRAI, P1_SUTAI) },
  { title: TITLES[1], l: 370.2, t: TOP_T, r: 664.3, b: TOP_B, yMin: 99.58, yMax: 106.54, yTicks: Y_TICKS_P2, yLabels: Y_LABELS_P2, lw: 2, series: topSeries(P2_DMKT, P2_SDAI, P2_SRAI, P2_SUTAI) },
  { title: TITLES[2], l: 695.2, t: TOP_T, r: 989, b: TOP_B, yMin: 89.49, yMax: 110.71, yTicks: Y_TICKS_P3, yLabels: Y_LABELS_P3, lw: 2, series: topSeries(P3_DMKT, P3_SDAI, P3_SRAI, P3_SUTAI) },
  { title: TITLES[3], l: 1037.3, t: TOP_T, r: 1323.4, b: TOP_B, yMin: 97.12, yMax: 108.0, yTicks: Y_TICKS_P4, yLabels: Y_LABELS_P4, lw: 2, series: topSeries(P4_DMKT, P4_SDAI, P4_SRAI, P4_SUTAI) },
  { l: 104.9, t: 249.4, r: 390.4, b: 450.4, yMin: 0.927, yMax: 1.034, yTicks: Y_TICKS_P5, yLabels: Y_LABELS_P5, lw: 1.6, series: botSeries(P5_PEG, P5_PDAI, P5_PUTAI, P5_AUTAI, P5_PRAI, P5_ARAI) },
  { l: 422.3, t: 252.7, r: 711.5, b: 460.7, yMin: 0.96036, yMax: 1.0335, yTicks: Y_TICKS_P6, yLabels: Y_LABELS_P6, lw: 1.6, series: botSeries(P6_PEG, P6_PDAI, P6_PUTAI, P6_AUTAI, P6_PRAI, P6_ARAI) },
  { l: 741.3, t: 253, r: 1030.5, b: 460.7, yMin: 0.8936, yMax: 1.1157, yTicks: Y_TICKS_P7, yLabels: Y_LABELS_P7, lw: 1.6, series: botSeries(P7_PEG, P7_PDAI, P7_PUTAI, P7_AUTAI, P7_PRAI, P7_ARAI) },
  { l: 1058.9, t: 253, r: 1348.2, b: 460.7, yMin: 0.8922, yMax: 1.078, yTicks: Y_TICKS_P8, yLabels: Y_LABELS_P8, lw: 1.6, series: botSeries(P8_PEG, P8_PDAI, P8_PUTAI, P8_AUTAI, P8_PRAI, P8_ARAI) },
];

// small inward tick marks on the left and bottom axes
const innerTicks = {
  id: "innerTicks",
  afterDraw(chart: any) {
    const { ctx, chartArea, scales } = chart;
    ctx.save();
    ctx.strokeStyle = AXIS;
    ctx.lineWidth = 1;
    ctx.beginPath();
    for (const t of scales.x.ticks) {
      const px = scales.x.getPixelForValue(t.value);
      ctx.moveTo(px, chartArea.bottom);
      ctx.lineTo(px, chartArea.bottom - 3);
    }
    for (const t of scales.y.ticks) {
      const py = scales.y.getPixelForValue(t.value);
      ctx.moveTo(chartArea.left, py);
      ctx.lineTo(chartArea.left + 3, py);
    }
    ctx.stroke();
    ctx.restore();
  },
};

function Panel({ p }: { p: PanelDef }) {
  const ref = useRef<HTMLCanvasElement | null>(null);
  const cl = Math.floor(p.l - 34);
  const ct = p.title ? 0 : Math.floor(p.t - 10);
  const cw = Math.ceil(p.r + 12) - cl;
  const ch = Math.ceil(p.b + 22) - ct;
  const yw = p.l - cl;
  const padTop = p.t - ct;
  const padRight = cl + cw - p.r;
  const xh = ct + ch - p.b;
  const tickFont = { family: SERIF, size: 10 };

  useEffect(() => {
    if (!ref.current) return;
    const n = p.series.length;
    const chart = new Chart(ref.current, {
      type: "line",
      data: {
        datasets: p.series.map((s, i) => ({
          data: s.data.map(([x, y]) => ({ x, y })),
          borderColor: s.color,
          backgroundColor: s.color,
          borderWidth: p.lw,
          pointRadius: 0,
          fill: false,
          tension: s.smooth ? 0.4 : 0,
          cubicInterpolationMode: s.smooth ? "monotone" : "default",
          borderJoinStyle: "round",
          order: n - i,
        })) as any,
      },
      plugins: [innerTicks],
      options: {
        responsive: false,
        animation: false,
        events: [],
        layout: { padding: { top: p.title ? 0 : padTop, right: padRight, left: 0, bottom: 0 } },
        plugins: {
          legend: { display: false },
          tooltip: { enabled: false },
          title: {
            display: !!p.title,
            text: p.title || "",
            fullSize: false,
            color: "#111",
            font: { family: SERIF, size: 18, weight: "normal", lineHeight: 1.2 },
            padding: { top: 2, bottom: Math.max(0, padTop - 2 - 21.6) },
          },
        },
        scales: {
          x: {
            type: "linear",
            min: -1.97,
            max: 102.97,
            afterBuildTicks: (s: any) => { s.ticks = X_TICKS.map((v) => ({ value: v })); },
            afterFit: (s: any) => { s.height = xh; },
            ticks: {
              callback: (_v: any, i: number) => X_TICK_LABELS[i],
              font: tickFont, color: TEXT, padding: 4, maxRotation: 0, autoSkip: false,
            },
            grid: { color: GRID, lineWidth: 1, drawTicks: false },
            border: { display: true, color: AXIS, width: 1.2 },
          },
          y: {
            type: "linear",
            min: p.yMin,
            max: p.yMax,
            afterBuildTicks: (s: any) => { s.ticks = p.yTicks.map((v) => ({ value: v })); },
            afterFit: (s: any) => { s.width = yw; },
            ticks: {
              callback: (_v: any, i: number) => p.yLabels[i],
              font: tickFont, color: TEXT, padding: 6, autoSkip: false,
            },
            grid: { color: GRID, lineWidth: 1, drawTicks: false },
            border: { display: true, color: AXIS, width: 1.2 },
          },
        },
      } as any,
    });
    return () => chart.destroy();
  }, []);

  return (
    <canvas
      ref={ref}
      width={cw}
      height={ch}
      style={{ position: "absolute", left: cl, top: ct, width: cw, height: ch }}
    />
  );
}

const TOP_LEGEND_COLORS = [COL.mag, COL.navy, COL.dgreen, COL.choc];
const BOT_LEGEND_COLORS = [COL.mag, COL.navy, COL.choc, COL.orange, COL.dgreen, COL.lgreen];

function TopLegend() {
  return (
    <div style={{ position: "absolute", left: 49, top: 29, width: 69, height: 79, border: "1px solid #444", background: "#fff", fontFamily: SERIF }}>
      {LEGEND_TOP_BASE.map((b, i) => {
        const cy = 15 + i * 16.2;
        return (
          <React.Fragment key={i}>
            <div style={{ position: "absolute", left: 1, top: cy - 1.75, width: 23, height: 3.5, background: TOP_LEGEND_COLORS[i], borderRadius: 2 }} />
            <div style={{ position: "absolute", left: 26, top: cy - 10, height: 20, lineHeight: "20px", whiteSpace: "nowrap", color: "#111" }}>
              <span style={{ fontStyle: "italic", fontSize: 15 }}>{b}</span>
              <span style={{ fontSize: 9, position: "relative", top: 3, marginLeft: 0.5 }}>{LEGEND_TOP_SUB[i]}</span>
            </div>
          </React.Fragment>
        );
      })}
    </div>
  );
}

function BottomLegend() {
  return (
    <div style={{ position: "absolute", left: 6, top: 255, width: 71, height: 96, border: "1px solid #444", background: "#fff", fontFamily: SERIF }}>
      {LEGEND_BOT_BASE.map((b, i) => {
        const cy = 13.5 + i * 14.1;
        return (
          <React.Fragment key={i}>
            <div style={{ position: "absolute", left: 3, top: cy - 1.5, width: 26, height: 3, background: BOT_LEGEND_COLORS[i], borderRadius: 1.5 }} />
            <div style={{ position: "absolute", left: 31, top: cy - 9, height: 18, lineHeight: "18px", whiteSpace: "nowrap", color: "#111" }}>
              <span style={{ fontStyle: "italic", fontSize: 13 }}>{b}</span>
              <span style={{ fontSize: 8.5, position: "relative", top: -4, marginLeft: 0.5 }}>{LEGEND_BOT_SUP[i]}</span>
            </div>
          </React.Fragment>
        );
      })}
    </div>
  );
}

export default function App() {
  return (
    <div style={{ position: "absolute", left: 0, top: 0, width: 1364, height: 476, background: "#fff", overflow: "hidden" }}>
      {PANELS.map((p, i) => <Panel key={i} p={p} />)}
      <TopLegend />
      <BottomLegend />
    </div>
  );
}
